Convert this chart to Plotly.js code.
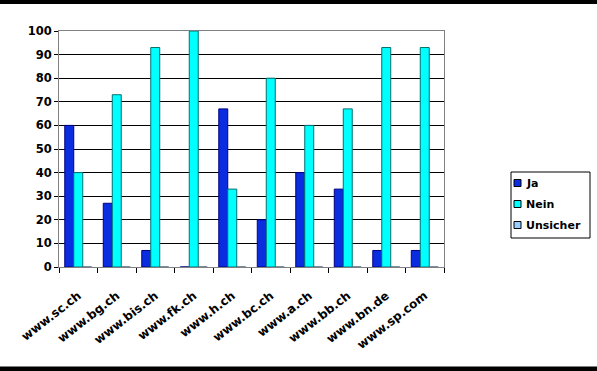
<!DOCTYPE html>
<html>
<head>
<meta charset="utf-8">
<script src="https://cdn.plot.ly/plotly-3.0.1.min.js"></script>
<style>
html,body{margin:0;padding:0;background:#fff;}
#wrap{position:relative;width:597px;height:371px;overflow:hidden;}
#chart{position:absolute;left:0;top:0;width:597px;height:371px;}
.bar{position:absolute;left:0;width:597px;background:#000;z-index:5;}
</style>
</head>
<body>
<div id="wrap">
<div class="bar" style="top:0;height:4px;"></div>
<div class="bar" style="top:366px;height:1px;background:#808080;"></div>
<div class="bar" style="top:367px;height:4px;"></div>
<div id="chart"></div>
</div>
<script>
const categories = ["www.sc.ch","www.bg.ch","www.bis.ch","www.fk.ch","www.h.ch","www.bc.ch","www.a.ch","www.bb.ch","www.bn.de","www.sp.com"];
const ja = [60, 27, 7, 0, 67, 20, 40, 33, 7, 7];
const nein = [40, 73, 93, 100, 33, 80, 60, 67, 93, 93];
const unsicher = [0, 0, 0, 0, 0, 0, 0, 0, 0, 0];
const yTicks = [0,10,20,30,40,50,60,70,80,90,100];
const seriesNames = ["Ja", "Nein", "Unsicher"];
const seriesColors = ["#0a2de0", "#00ffff", "#99ccff"];
const seriesEdges = ["#000080", "#007070", "#4d6680"];

const FAM = "DejaVu Sans, Verdana, sans-serif";
const W = 597, H = 371;
const M = {l: 59, r: 153, t: 31, b: 104};
const PW = W - M.l - M.r, PH = H - M.t - M.b;
const px = x => (x - M.l) / PW;      // pixel -> paper x
const py = y => (H - M.b - y) / PH;  // pixel -> paper y

const traces = [ja, nein, unsicher].map((vals, i) => ({
  type: "bar", name: seriesNames[i], x: categories, y: vals,
  marker: {color: seriesColors[i], line: {color: seriesEdges[i], width: 1}}
}));

// compact legend (box, swatches, labels)
const shapes = [{type: "rect", xref: "paper", yref: "paper",
  x0: px(511), x1: px(590), y0: py(238), y1: py(172),
  line: {color: "#000", width: 1}, fillcolor: "#fff"}];
const annotations = [];
const rowY = [183, 204, 225];
seriesNames.forEach((n, i) => {
  shapes.push({type: "rect", xref: "paper", yref: "paper",
    x0: px(514), x1: px(521), y0: py(rowY[i] + 3.5), y1: py(rowY[i] - 3.5),
    line: {color: "#000", width: 1}, fillcolor: seriesColors[i]});
  annotations.push({xref: "paper", yref: "paper", x: px(524), y: py(rowY[i]),
    xanchor: "left", yanchor: "middle", showarrow: false, text: n,
    font: {family: FAM, size: 11, color: "#000", weight: "bold"}});
});

const layout = {
  width: W, height: H,
  margin: {l: M.l, r: M.r, t: M.t, b: M.b, pad: 0},
  paper_bgcolor: "#fff", plot_bgcolor: "#fff",
  barmode: "group", bargap: 0.3, bargroupgap: 0,
  showlegend: false,
  shapes: shapes, annotations: annotations,
  xaxis: {type: "category", tickangle: -38, ticks: "outside", ticklen: 5,
          tickcolor: "#000", tickson: "boundaries", ticklabelstandoff: 16,
          showline: true, linecolor: "#808080", linewidth: 1, mirror: true,
          showgrid: false, tickfont: {family: FAM, size: 12, color: "#000", weight: "bold"}},
  yaxis: {range: [0, 100], tickvals: yTicks, ticktext: yTicks.map(String),
          ticks: "outside", ticklen: 4, tickcolor: "#000",
          showline: true, linecolor: "#808080", linewidth: 1, mirror: true,
          showgrid: true, gridcolor: "#000", gridwidth: 1, zeroline: false,
          tickfont: {family: FAM, size: 11.5, color: "#000", weight: "bold"}}
};

Plotly.newPlot("chart", traces, layout, {displayModeBar: false, staticPlot: true});
</script>
</body>
</html>
